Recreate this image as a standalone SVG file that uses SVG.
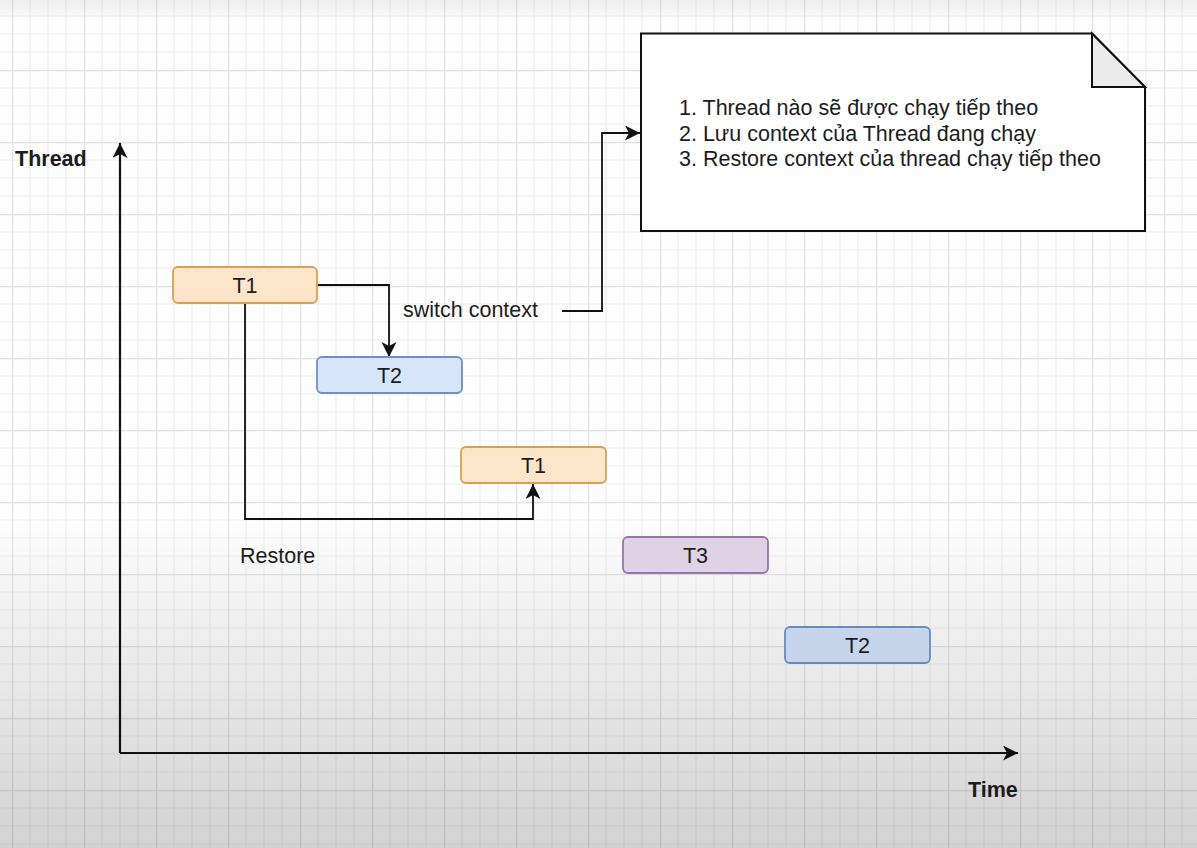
<svg xmlns="http://www.w3.org/2000/svg" width="1197" height="848" viewBox="0 0 1197 848">
  <defs>
    <pattern id="grid" patternUnits="userSpaceOnUse" x="12" y="70" width="72" height="72">
      <path d="M18,0 V72 M36,0 V72 M54,0 V72 M0,18 H72 M0,36 H72 M0,54 H72" stroke="#eeeeee" stroke-width="1.2" fill="none"/>
      <path d="M0.5,0 V72 M0,0.5 H72" stroke="#e2e2e2" stroke-width="1.4" fill="none"/>
    </pattern>
    <linearGradient id="shadeBottom" x1="0" y1="0" x2="0" y2="1">
      <stop offset="0" stop-color="#000" stop-opacity="0"/>
      <stop offset="1" stop-color="#000" stop-opacity="0.17"/>
    </linearGradient>
    <linearGradient id="shadeTop" x1="0" y1="0" x2="0" y2="1">
      <stop offset="0" stop-color="#000" stop-opacity="0.06"/>
      <stop offset="1" stop-color="#000" stop-opacity="0"/>
    </linearGradient>
    <marker id="arrow" markerUnits="userSpaceOnUse" markerWidth="16" markerHeight="16" refX="15" refY="7.5" orient="auto" viewBox="0 0 16 16">
      <path d="M0,0 L15,7.5 L0,15 L4,7.5 Z" fill="#111"/>
    </marker>
    <style>
      .lbl { font-family: "Liberation Sans", Arial, sans-serif; font-size: 21.5px; fill: #1c1c1c; }
      .bold { font-weight: bold; }
      .box { stroke-width: 1.8; }
      .orange { fill: #fde5ca; stroke: #d8a050; }
      .blue { fill: #d7e5fa; stroke: #6f8fc0; }
      .blue2 { fill: #c6d5ec; stroke: #6a8abb; }
      .purple { fill: #e0d2e5; stroke: #9874a8; }
      .conn { fill: none; stroke: #111; stroke-width: 1.8; }
      .axis { fill: none; stroke: #111; stroke-width: 2.2; }
    </style>
  </defs>

  <g id="background">
    <rect x="0" y="0" width="1197" height="848" fill="#fdfdfd"/>
    <rect x="0" y="0" width="1197" height="848" fill="url(#grid)"/>
    <rect x="0" y="0" width="1197" height="22" fill="url(#shadeTop)"/>
    <rect x="0" y="520" width="1197" height="328" fill="url(#shadeBottom)"/>
  </g>

  <g id="connectors">
    <path class="axis" d="M120,753 V143" marker-end="url(#arrow)"/>
    <path class="axis" d="M120,753 H1018" marker-end="url(#arrow)"/>
    <path class="conn" d="M317,285 H389 V357" marker-end="url(#arrow)"/>
    <path class="conn" d="M245,303 V519 H533 V484" marker-end="url(#arrow)"/>
    <path class="conn" d="M562,311 H602 V133 H640" marker-end="url(#arrow)"/>
  </g>

  <g id="label-thread">
    <text class="lbl bold" x="15" y="166">Thread</text>
  </g>
  <g id="label-time">
    <text class="lbl bold" x="968" y="797">Time</text>
  </g>
  <g id="label-switch">
    <text class="lbl" x="403" y="317">switch context</text>
  </g>
  <g id="label-restore">
    <text class="lbl" x="240" y="563">Restore</text>
  </g>

  <g id="note">
    <path d="M641,33.5 H1092 L1145,87 V231 H641 Z" fill="#ffffff" stroke="#111" stroke-width="2"/>
    <path d="M1092,33.5 V87 H1145 Z" fill="#ebebeb" stroke="#111" stroke-width="2" stroke-linejoin="miter"/>
    <text class="lbl" x="679" y="115">1. Thread nào sẽ được chạy tiếp theo</text>
    <text class="lbl" x="679" y="140.5">2. Lưu context của Thread đang chạy</text>
    <text class="lbl" x="679" y="166">3. Restore context của thread chạy tiếp theo</text>
  </g>

  <g id="node-t1a">
    <rect class="box orange" x="173" y="267" width="144" height="36" rx="5"/>
    <text class="lbl" x="245" y="293" text-anchor="middle">T1</text>
  </g>
  <g id="node-t2a">
    <rect class="box blue" x="317" y="357" width="145" height="36" rx="5"/>
    <text class="lbl" x="389.5" y="383" text-anchor="middle">T2</text>
  </g>
  <g id="node-t1b">
    <rect class="box orange" x="461" y="447" width="145" height="36" rx="5"/>
    <text class="lbl" x="533.5" y="473" text-anchor="middle">T1</text>
  </g>
  <g id="node-t3">
    <rect class="box purple" x="623" y="537" width="145" height="36" rx="5"/>
    <text class="lbl" x="695.5" y="563" text-anchor="middle">T3</text>
  </g>
  <g id="node-t2b">
    <rect class="box blue2" x="785" y="627" width="145" height="36" rx="5"/>
    <text class="lbl" x="857.5" y="653" text-anchor="middle">T2</text>
  </g>
</svg>
